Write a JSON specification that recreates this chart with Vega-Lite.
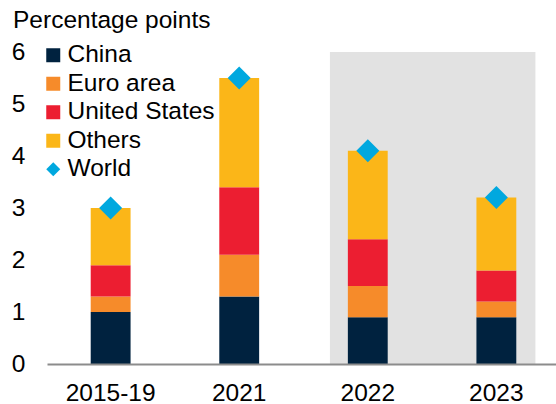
{
  "$schema": "https://vega.github.io/schema/vega-lite/v6.json",
  "width": 509,
  "height": 312,
  "autosize": {"type": "none"},
  "padding": {"left": 47, "top": 52, "right": 0, "bottom": 40},
  "background": "white",
  "title": {
    "text": "Percentage points",
    "anchor": "start",
    "frame": "group",
    "orient": "top",
    "baseline": "alphabetic",
    "offset": 20,
    "dy": 33,
    "dx": -34,
    "fontSize": 24.5,
    "fontWeight": "normal",
    "color": "#000000",
    "font": "Liberation Sans"
  },
  "datasets": {
    "shade": [{"from": "2022", "to": "2023"}],
    "bars": [
      {"period": "2015-19", "region": "China", "value": 1.0},
      {"period": "2015-19", "region": "Euro area", "value": 0.3},
      {"period": "2015-19", "region": "United States", "value": 0.6},
      {"period": "2015-19", "region": "Others", "value": 1.1},
      {"period": "2021", "region": "China", "value": 1.3},
      {"period": "2021", "region": "Euro area", "value": 0.8},
      {"period": "2021", "region": "United States", "value": 1.3},
      {"period": "2021", "region": "Others", "value": 2.1},
      {"period": "2022", "region": "China", "value": 0.9},
      {"period": "2022", "region": "Euro area", "value": 0.6},
      {"period": "2022", "region": "United States", "value": 0.9},
      {"period": "2022", "region": "Others", "value": 1.7},
      {"period": "2023", "region": "China", "value": 0.9},
      {"period": "2023", "region": "Euro area", "value": 0.3},
      {"period": "2023", "region": "United States", "value": 0.6},
      {"period": "2023", "region": "Others", "value": 1.4}
    ],
    "world": [
      {"period": "2015-19", "region": "World", "value": 3.0},
      {"period": "2021", "region": "World", "value": 5.5},
      {"period": "2022", "region": "World", "value": 4.1},
      {"period": "2023", "region": "World", "value": 3.2}
    ]
  },
  "encoding": {
    "x": {
      "field": "period",
      "type": "nominal",
      "sort": ["2015-19", "2021", "2022", "2023"],
      "scale": {
        "domain": ["2015-19", "2021", "2022", "2023"],
        "range": [0, 513],
        "paddingInner": 0.69,
        "paddingOuter": 0.34
      },
      "axis": {
        "title": null,
        "labelAngle": 0,
        "ticks": false,
        "domainColor": "#8C8C8C",
        "domainWidth": 2,
        "labelFontSize": 24.5,
        "labelPadding": 17,
        "labelColor": "#000000",
        "labelFont": "Liberation Sans"
      }
    }
  },
  "layer": [
    {
      "data": {"name": "shade"},
      "mark": {"type": "rect", "color": "#E2E2E2"},
      "encoding": {
        "x": {"field": "from", "type": "nominal", "bandPosition": -0.45},
        "x2": {"field": "to", "bandPosition": 1.48},
        "y": {"datum": 0, "type": "quantitative"},
        "y2": {"datum": 6}
      }
    },
    {
      "data": {"name": "bars"},
      "transform": [
        {"calculate": "indexof(['China', 'Euro area', 'United States', 'Others'], datum.region)", "as": "stackRank"}
      ],
      "mark": {"type": "bar"},
      "encoding": {
        "y": {
          "field": "value",
          "type": "quantitative",
          "stack": "zero",
          "scale": {"domain": [0, 6], "nice": false},
          "axis": {
            "title": null,
            "values": [0, 1, 2, 3, 4, 5, 6],
            "domain": false,
            "ticks": false,
            "grid": false,
            "labelFontSize": 24.5,
            "labelPadding": 22,
            "labelColor": "#000000",
            "labelFont": "Liberation Sans"
          }
        },
        "order": {"field": "stackRank", "type": "quantitative", "sort": "ascending"},
        "color": {
          "field": "region",
          "type": "nominal",
          "scale": {
            "domain": ["China", "Euro area", "United States", "Others", "World"],
            "range": ["#00223F", "#F68B2A", "#EC1E31", "#FBB618", "#00A8DF"]
          },
          "legend": {
            "title": null,
            "orient": "none",
            "legendX": -6,
            "legendY": -9,
            "padding": 0,
            "labelFontSize": 24.5,
            "labelFont": "Liberation Sans",
            "labelColor": "#000000",
            "labelOffset": 2,
            "rowPadding": 3.5,
            "symbolSize": 196,
            "symbolStrokeWidth": 0
          }
        }
      }
    },
    {
      "data": {"name": "world"},
      "mark": {"type": "point", "filled": true, "opacity": 1, "size": 529},
      "encoding": {
        "y": {"field": "value", "type": "quantitative"},
        "color": {"field": "region", "type": "nominal"},
        "shape": {
          "field": "region",
          "type": "nominal",
          "scale": {
            "domain": ["China", "Euro area", "United States", "Others", "World"],
            "range": ["square", "square", "square", "square", "diamond"]
          }
        }
      }
    }
  ],
  "config": {
    "view": {"stroke": null},
    "font": "Liberation Sans"
  }
}
